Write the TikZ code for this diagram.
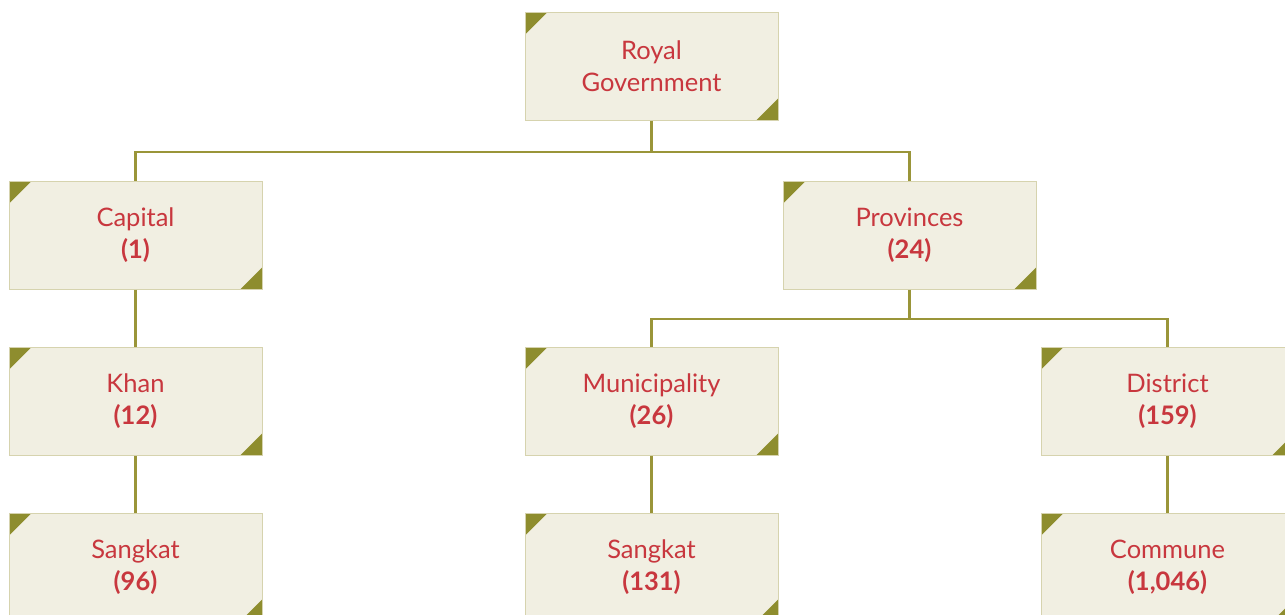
\documentclass[tikz,border=0pt]{standalone}
\usepackage{fontspec}
\setmainfont{Lato}
\definecolor{boxfill}{HTML}{F1EFE2}
\definecolor{boxedge}{HTML}{D6D3AE}
\definecolor{olive}{HTML}{8E8D2E}
\definecolor{lineol}{HTML}{9A9539}
\definecolor{txtred}{HTML}{C8373E}
\tikzset{
  orgbox/.style={draw=boxedge, line width=0.8pt, fill=boxfill, minimum width=253pt, minimum height=108pt,
    inner sep=0pt, align=center, text=txtred, font=\fontsize{25.5}{32}\selectfont,
    path picture={
      \fill[olive] (path picture bounding box.north west) -- ++(22pt,0pt) -- ++(-22pt,-22pt) -- cycle;
      \fill[olive] (path picture bounding box.south east) -- ++(-22pt,0pt) -- ++(22pt,22pt) -- cycle;
    }},
  conn/.style={draw=lineol, line width=2.6pt}
}
\begin{document}
\begin{tikzpicture}[x=1pt,y=-1pt]
\useasboundingbox (0,0) rectangle (1285,615);
\clip (0,0) rectangle (1285,615);
\node[orgbox] (root) at (651.5,66.5) {Royal\\Government};
\node[orgbox] (cap) at (135.5,235.5) {Capital\\\textbf{(1)}};
\node[orgbox] (prov) at (909.5,235.5) {Provinces\\\textbf{(24)}};
\node[orgbox] (khan) at (135.5,401.5) {Khan\\\textbf{(12)}};
\node[orgbox] (muni) at (651.5,401.5) {Municipality\\\textbf{(26)}};
\node[orgbox] (dist) at (1167.5,401.5) {District\\\textbf{(159)}};
\node[orgbox] (sk1) at (135.5,567.5) {Sangkat\\\textbf{(96)}};
\node[orgbox] (sk2) at (651.5,567.5) {Sangkat\\\textbf{(131)}};
\node[orgbox] (comm) at (1167.5,567.5) {Commune\\\textbf{(1,046)}};
\draw[conn] (root.south) -- ++(0pt,-31pt) -| (cap.north);
\draw[conn] (root.south) -- ++(0pt,-31pt) -| (prov.north);
\draw[conn] (prov.south) -- ++(0pt,-29pt) -| (muni.north);
\draw[conn] (prov.south) -- ++(0pt,-29pt) -| (dist.north);
\draw[conn] (cap.south) -- (khan.north);
\draw[conn] (khan.south) -- (sk1.north);
\draw[conn] (muni.south) -- (sk2.north);
\draw[conn] (dist.south) -- (comm.north);
\end{tikzpicture}
\end{document}
